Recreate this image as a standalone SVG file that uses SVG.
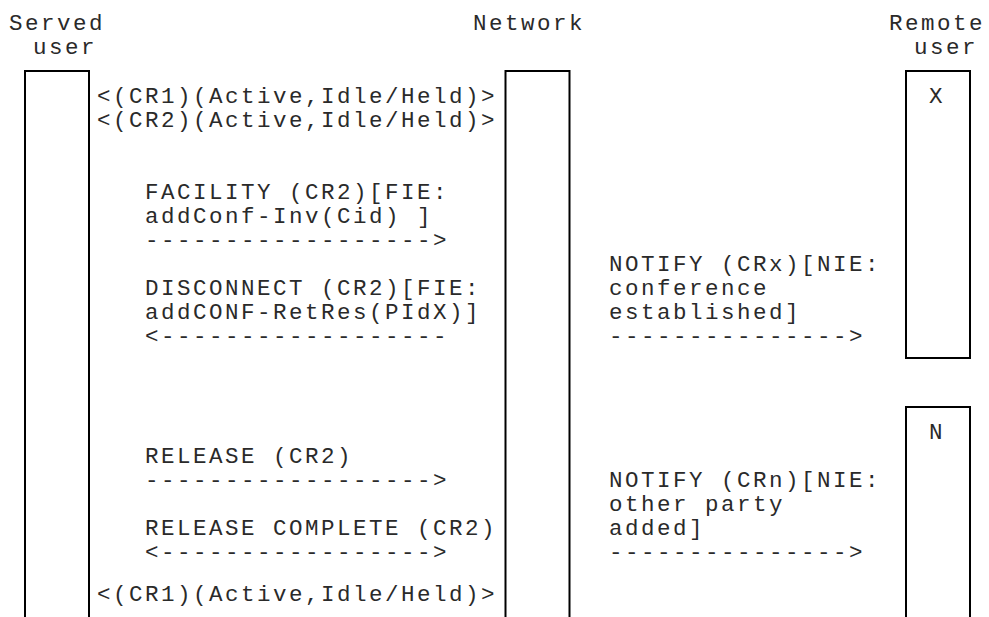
<svg xmlns="http://www.w3.org/2000/svg" width="989" height="617" viewBox="0 0 989 617">
<style>
  text { font-family: "Liberation Mono", "DejaVu Sans Mono", monospace; font-size: 22.5px; letter-spacing: 2.5px; fill: #2a2a2a; white-space: pre; }
  .ln { stroke: #000; stroke-width: 2; fill: none; }
  .bg { fill: #fff; }
</style>
<rect class="bg" x="0" y="0" width="989" height="617"/>

<g id="served-user">
  <text x="9" y="30">Served</text>
  <text x="33" y="54">user</text>
  <path class="ln" d="M25,617 V71 H89 V617"/>
</g>

<g id="network">
  <text x="473" y="30">Network</text>
  <path class="ln" d="M505.5,617 V71 H569.5 V617"/>
</g>

<g id="remote-user-x">
  <text x="889" y="30">Remote</text>
  <text x="914" y="54">user</text>
  <path class="ln" d="M906,71 H970 V358 H906 Z"/>
  <text x="929" y="103">X</text>
</g>

<g id="remote-user-n">
  <path class="ln" d="M906,617 V407 H970 V617"/>
  <text x="929" y="439">N</text>
</g>

<g id="states">
  <text x="97" y="103">&lt;(CR1)(Active,Idle/Held)&gt;</text>
  <text x="97" y="127">&lt;(CR2)(Active,Idle/Held)&gt;</text>
  <text x="97" y="601">&lt;(CR1)(Active,Idle/Held)&gt;</text>
</g>

<g id="connectors">
  <g id="msg-facility">
    <text x="145" y="199">FACILITY (CR2)[FIE:</text>
    <text x="145" y="223">addConf-Inv(Cid) ]</text>
    <text x="145" y="247">------------------&gt;</text>
  </g>
  <g id="msg-notify-crx">
    <text x="609" y="271">NOTIFY (CRx)[NIE:</text>
    <text x="609" y="295">conference</text>
    <text x="609" y="319">established]</text>
    <text x="609" y="343">---------------&gt;</text>
  </g>
  <g id="msg-disconnect">
    <text x="145" y="295">DISCONNECT (CR2)[FIE:</text>
    <text x="145" y="319">addCONF-RetRes(PIdX)]</text>
    <text x="145" y="343">&lt;------------------</text>
  </g>
  <g id="msg-release">
    <text x="145" y="463">RELEASE (CR2)</text>
    <text x="145" y="487">------------------&gt;</text>
  </g>
  <g id="msg-notify-crn">
    <text x="609" y="487">NOTIFY (CRn)[NIE:</text>
    <text x="609" y="511">other party</text>
    <text x="609" y="535">added]</text>
    <text x="609" y="559">---------------&gt;</text>
  </g>
  <g id="msg-release-complete">
    <text x="145" y="535">RELEASE COMPLETE (CR2)</text>
    <text x="145" y="559">&lt;-----------------&gt;</text>
  </g>
</g>
</svg>
